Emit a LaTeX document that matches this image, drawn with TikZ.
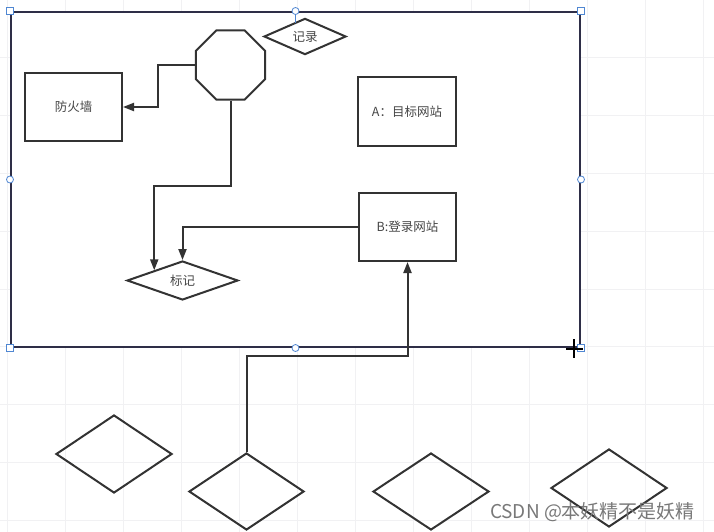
\documentclass[tikz,border=0pt]{standalone}
\usepackage{fontspec}
\usepackage{xcolor}
\usetikzlibrary{arrows.meta, positioning, shapes.geometric}
\newfontfamily\cjk{Noto Sans CJK SC}
\definecolor{inkgray}{RGB}{51,51,51}
\definecolor{textgray}{RGB}{70,70,70}
\definecolor{gridgray}{RGB}{241,241,243}
\definecolor{handleblue}{RGB}{80,135,210}
\definecolor{markgray}{RGB}{120,120,120}

\begin{document}
\begin{tikzpicture}[
  x=1pt, y=-1pt,
  gridline/.style={draw=gridgray, line width=0.8pt},
  frame/.style={draw=inkgray!90!blue, fill=white, line width=2pt,
    minimum width=569pt, minimum height=335pt, inner sep=0pt},
  box/.style={draw=inkgray, line width=2pt, fill=white, inner sep=0pt,
    minimum width=97pt, minimum height=68pt, text=textgray,
    font=\cjk\fontsize{12.5}{15}\selectfont},
  diam/.style={diamond, draw=inkgray, line width=2pt, inner sep=0pt,
    text=textgray, font=\cjk\fontsize{12.5}{15}\selectfont},
  stopsign/.style={regular polygon, regular polygon sides=8, draw=inkgray,
    line width=2pt, inner sep=0pt, minimum size=74.7pt},
  arr/.style={-{Triangle[length=11pt,width=8pt]}, draw=inkgray, line width=2pt},
  hsq/.style={draw=handleblue, fill=white, line width=0.8pt,
    minimum size=7pt, inner sep=0pt},
  hdot/.style={circle, draw=handleblue, fill=white, line width=0.8pt,
    minimum size=7pt, inner sep=0pt},
  watermark/.style={text=markgray, font=\cjk\fontsize{19}{22}\selectfont},
]
  \useasboundingbox (0,0) rectangle (714,532);
  % grid
  \foreach \gx in {7,65,...,703} \draw[gridline] (\gx,0) -- (\gx,532);
  \foreach \gy in {57.8,115.6,...,520.3} \draw[gridline] (0,\gy) -- (714,\gy);

  % selected container
  \node[frame] (cont) at (295.5,179.5) {};

  \node[box] (wall) at (73.5,107) {防火墙};
  \node[stopsign] (oct) at (230.5,65) {};
  \node[diam, minimum width=82pt, minimum height=35pt] (rec) at (305,36.5) {记录};
  \node[box, minimum width=98pt, minimum height=69pt] (siteA) at (407,111.5) {A：目标网站};
  \node[box] (siteB) at (407.5,227) {B:登录网站};
  \node[diam, minimum width=111pt, minimum height=39pt] (mark) at (182.5,280.5) {标记};

  % diamonds below
  \node[diam, minimum width=116pt, minimum height=78pt] (d1) at (114,454) {};
  \node[diam, minimum width=115pt, minimum height=77pt] (d2) at (246.5,491.5) {};
  \node[diam, minimum width=116pt, minimum height=77pt] (d3) at (431,491.5) {};
  \node[diam, minimum width=116pt, minimum height=78pt] (d4) at (609,488) {};

  \draw[arr] (oct.west) -- ++(-37,0) |- (wall.east);
  \draw[arr] (oct.south) -- ++(0,85) -| (mark.north west);
  \draw[arr] (siteB.west) -| (mark.north);
  \draw[arr] (d2.north) -- ++(0,-96) -| (siteB.south);

  % selection handles
  \draw[handleblue, line width=0.8pt] (cont.north) -- ++(0,12);
  \foreach \c in {north west, north east, south west, south east}
    \node[hsq] at (cont.\c) {};
  \foreach \c in {north, south, west, east}
    \node[hdot] at (cont.\c) {};

  % cursor
  \draw[black, line width=2.2pt] (574,339) -- (574,358);
  \draw[black, line width=2.2pt] (566,349) -- (583,349);

  \node[watermark] (wm) at (592.5,512) {CSDN @本妖精不是妖精};
\end{tikzpicture}
\end{document}
